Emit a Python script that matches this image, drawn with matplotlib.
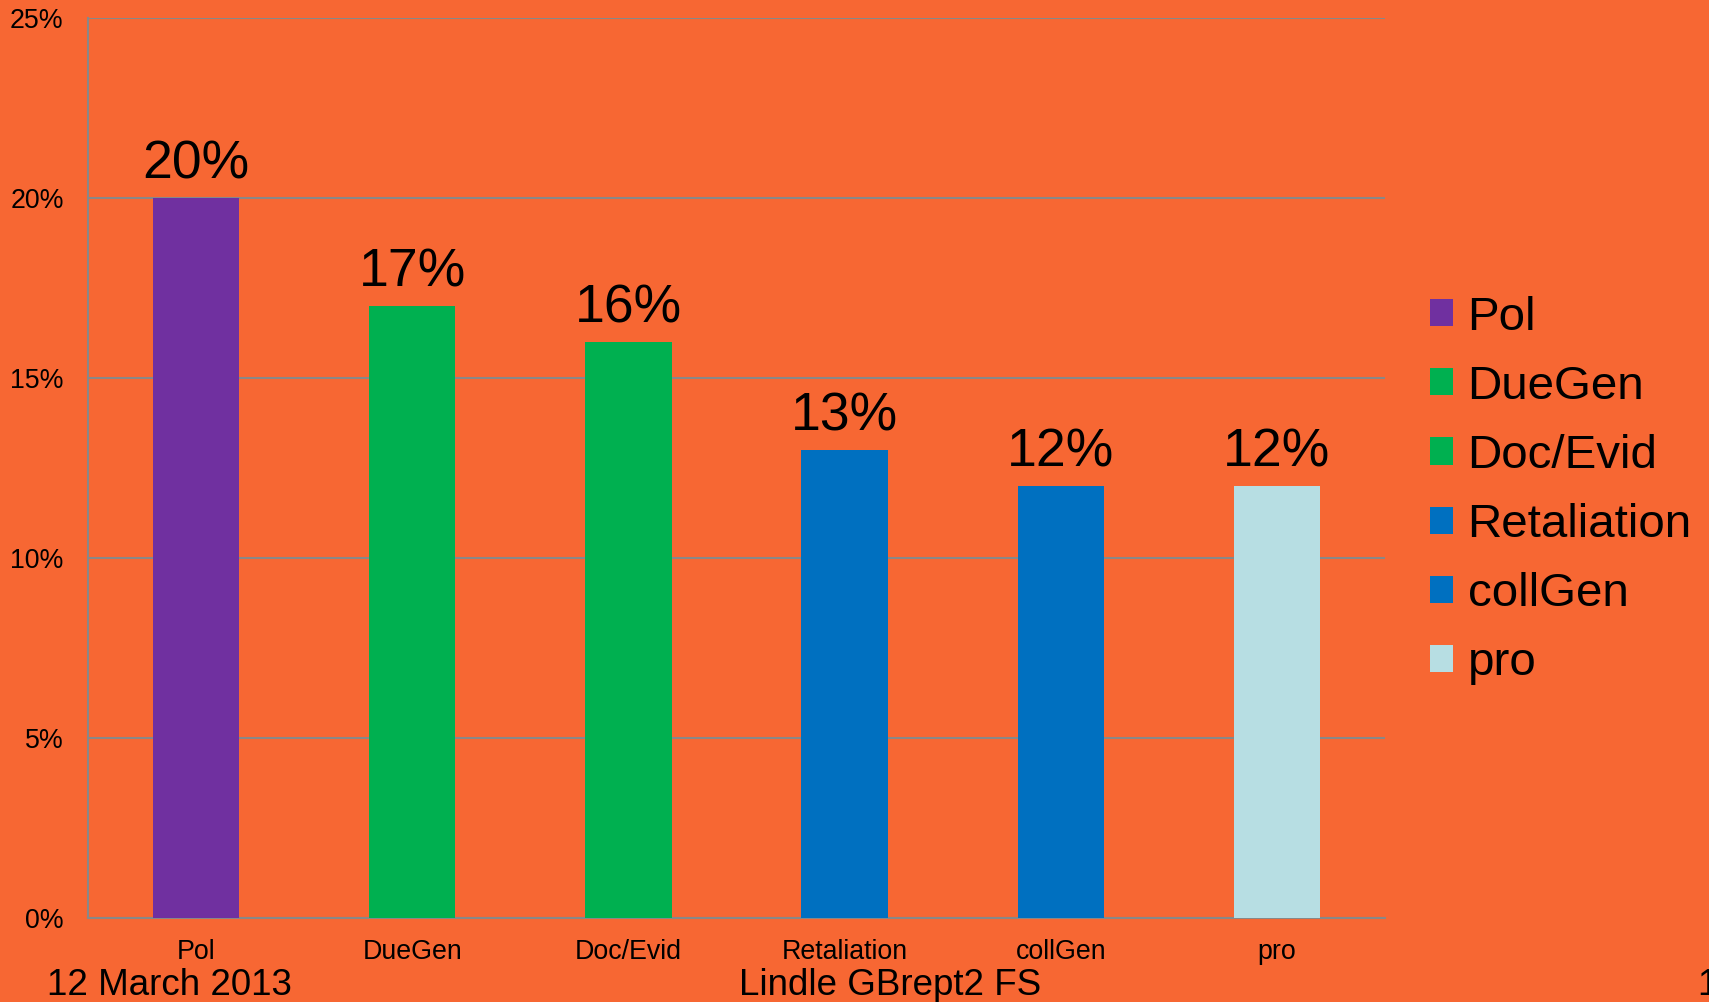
import matplotlib.pyplot as plt
from matplotlib.ticker import FuncFormatter

categories = ['Pol', 'DueGen', 'Doc/Evid', 'Retaliation', 'collGen', 'pro']
values = [20, 17, 16, 13, 12, 12]
colors = ['#7030A0', '#00B050', '#00B050', '#0070C0', '#0070C0', '#B7DEE3']
yticks = [0, 5, 10, 15, 20, 25]

bg = '#F76733'
grid = '#888888'

plt.rcParams['font.family'] = ['Liberation Sans', 'DejaVu Sans']

fig = plt.figure(figsize=(17.09, 10.02), dpi=100)
fig.patch.set_facecolor(bg)
ax = fig.add_axes([0.0515, 0.0838, 0.7589, 0.8982])
ax.set_facecolor(bg)

x = range(len(categories))
bars = ax.bar(x, values, width=0.4, color=colors, label=categories, zorder=3)

for xi, v in zip(x, values):
    ax.annotate('%d%%' % v, (xi, v), xytext=(0, 6.5), textcoords='offset points',
                ha='center', va='bottom', fontsize=38.5, color='black')

ax.set_xlim(-0.5, len(categories) - 0.5)
ax.set_ylim(0, 25)
ax.set_yticks(yticks)
ax.yaxis.set_major_formatter(FuncFormatter(lambda v, p: '%d%%' % v))
ax.set_xticks(list(x))
ax.set_xticklabels(categories)
ax.tick_params(axis='both', length=0, labelsize=19.3, colors='black')
ax.tick_params(axis='y', pad=17.5)
ax.tick_params(axis='x', pad=15)
ax.yaxis.grid(True, color=grid, linewidth=1.5, zorder=0)
for s in ['top', 'right']:
    ax.spines[s].set_visible(False)
for s in ['left', 'bottom']:
    ax.spines[s].set_color(grid)
    ax.spines[s].set_linewidth(1.5)

fig.legend(handles=list(bars), labels=categories, loc='center left',
           bbox_to_anchor=(0.8115, 0.5105), frameon=False, fontsize=34.2,
           handlelength=0.5, handleheight=0.5, handletextpad=0.3,
           labelspacing=0.53)

fig.text(0.0275, 0.007, '12 March 2013', fontsize=26.5, ha='left', va='baseline')
fig.text(0.521, 0.007, 'Lindle GBrept2 FS', fontsize=26.5, ha='center', va='baseline')
fig.text(0.993, 0.007, '1', fontsize=26.5, ha='left', va='baseline')

fig.savefig('out.png', dpi=100, facecolor=bg)
